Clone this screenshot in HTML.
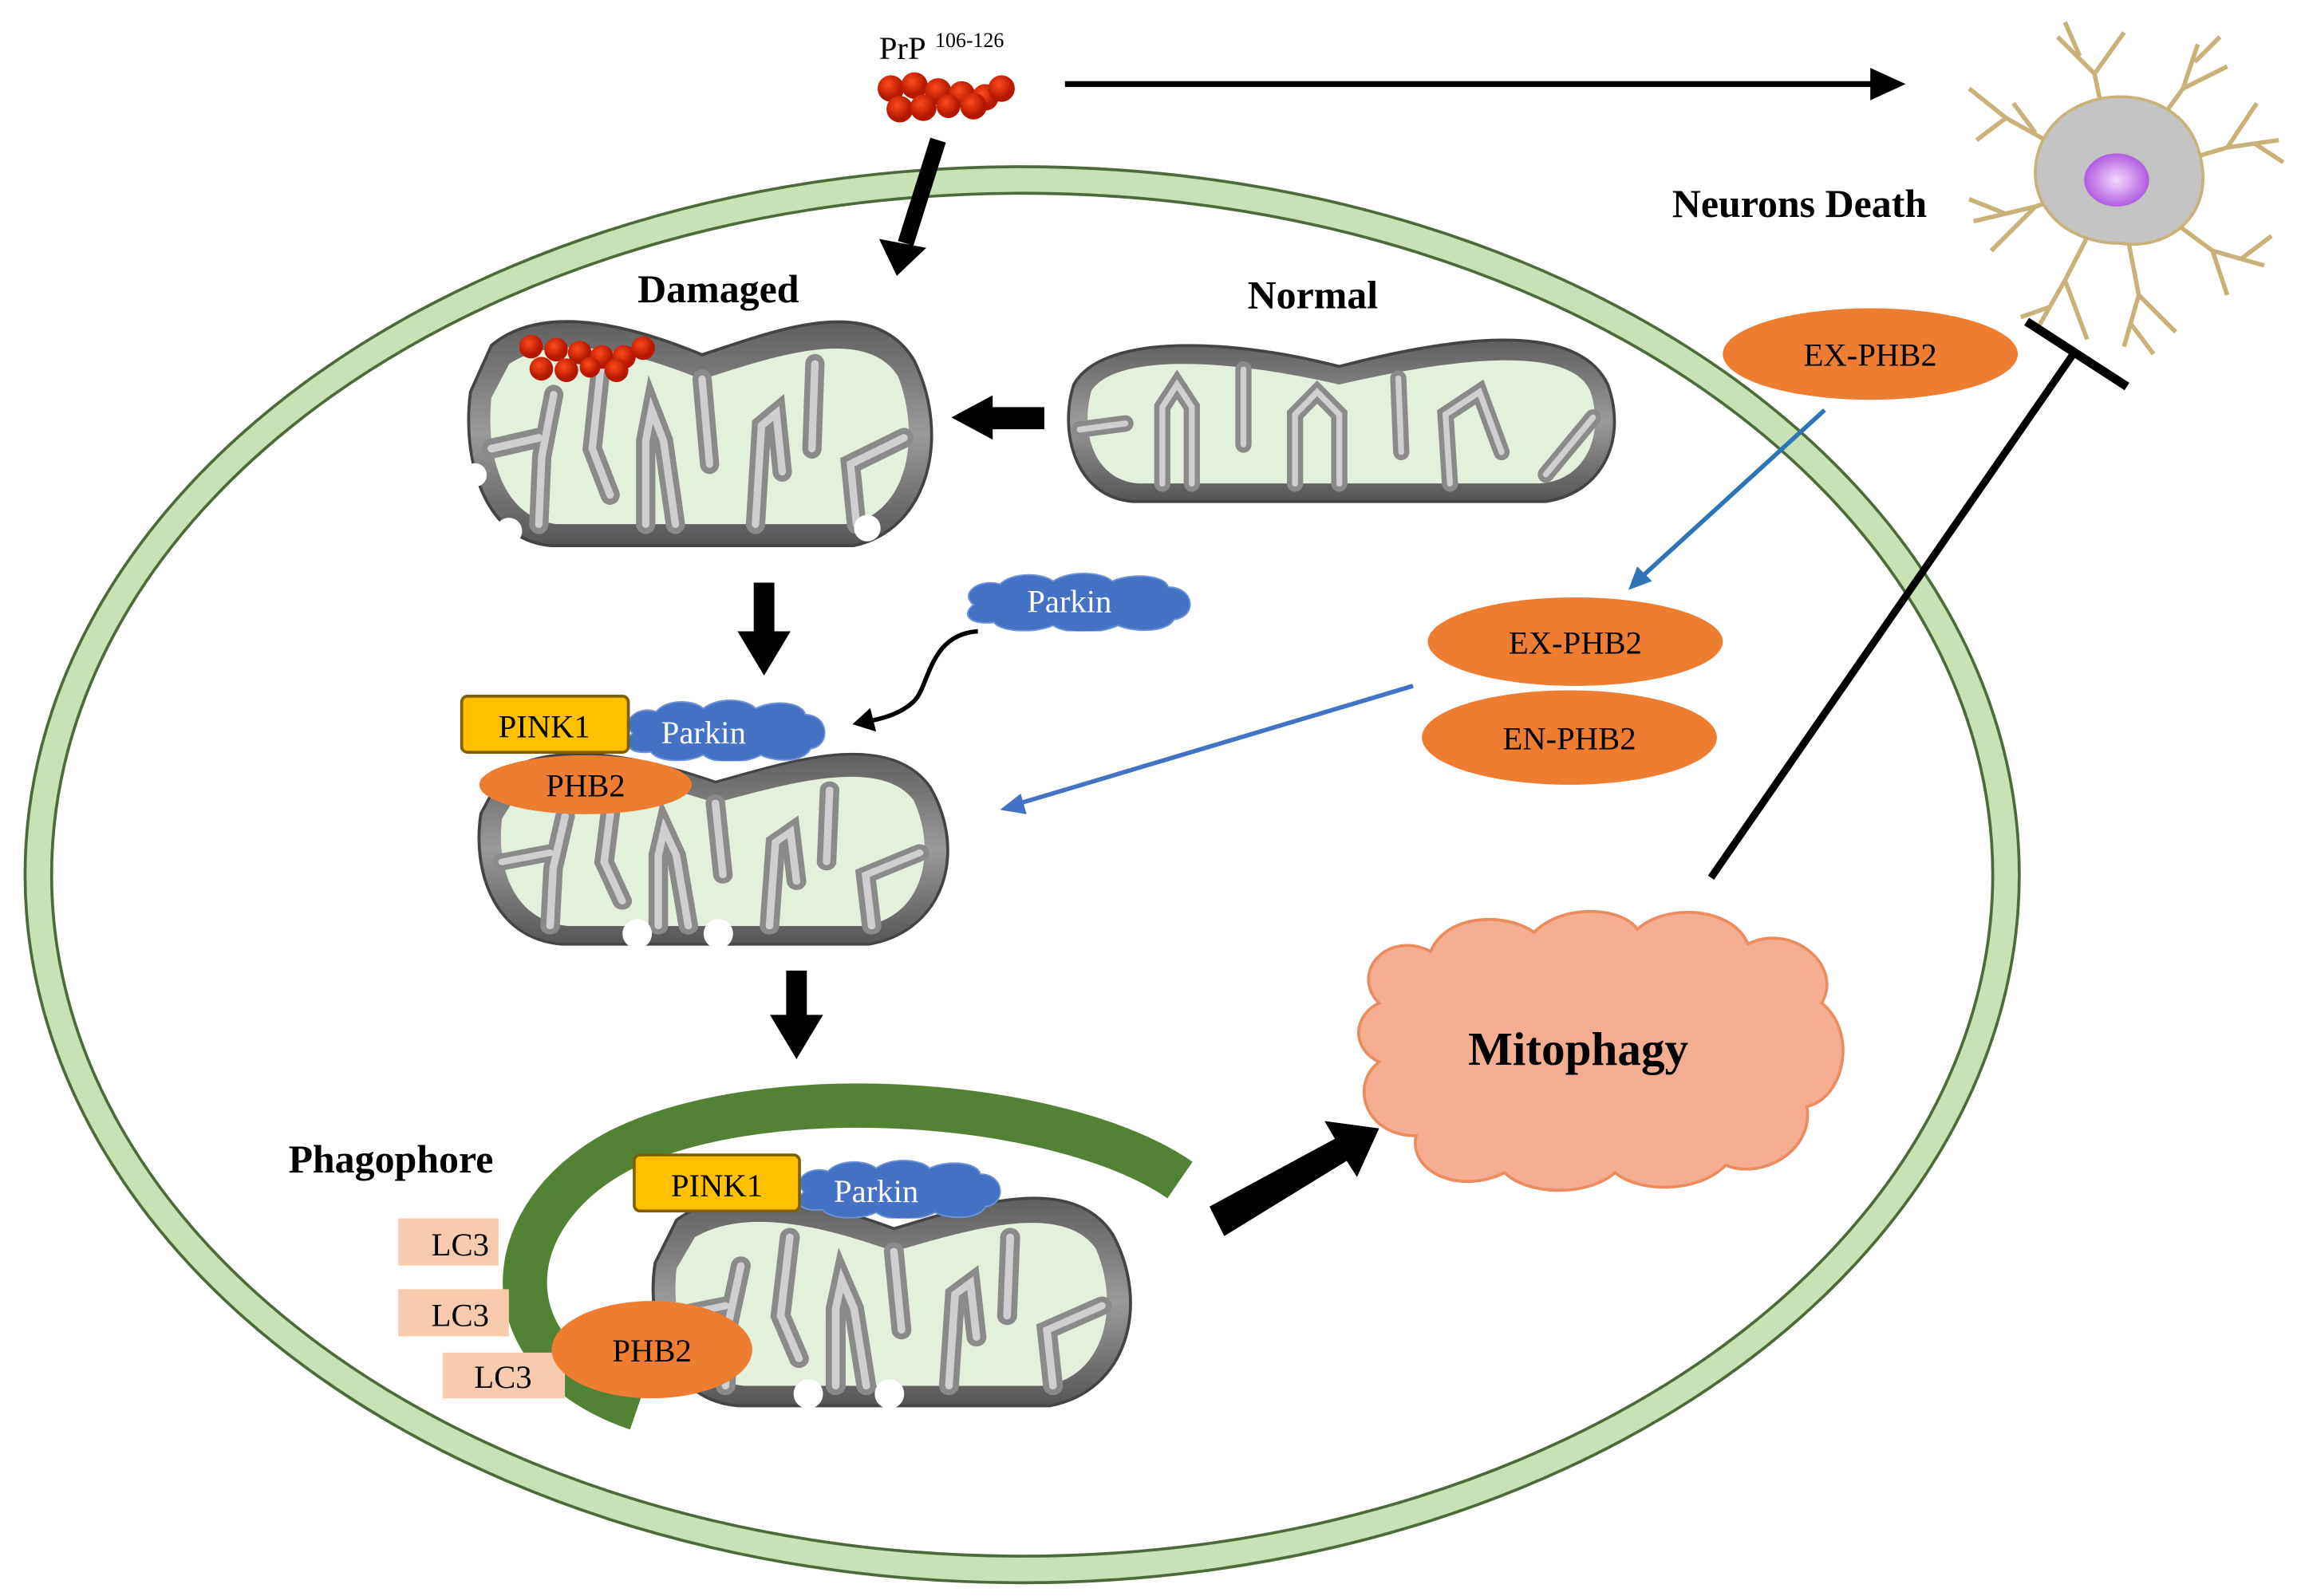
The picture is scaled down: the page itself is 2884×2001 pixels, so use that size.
<!DOCTYPE html>
<html><head><meta charset="utf-8"><style>
html,body{margin:0;padding:0;background:#fff;}
svg{display:block;}
text{font-family:"Liberation Serif",serif;}
</style></head><body>
<svg width="2884" height="2001" viewBox="0 0 1560 1082" preserveAspectRatio="none" xmlns="http://www.w3.org/2000/svg">
<defs>
<linearGradient id="mg" x1="0" y1="0" x2="0" y2="1">
<stop offset="0" stop-color="#5e5e5e"/><stop offset="0.5" stop-color="#9a9a9a"/><stop offset="1" stop-color="#555"/>
</linearGradient>
<radialGradient id="nuc"><stop offset="0" stop-color="#f3d9ff"/><stop offset="1" stop-color="#b05be0"/></radialGradient>
<radialGradient id="bead" cx="0.4" cy="0.35"><stop offset="0" stop-color="#ff4a1c"/><stop offset="1" stop-color="#b51800"/></radialGradient>
<symbol id="mito" viewBox="0 0 320 160" preserveAspectRatio="none">
<path d="M18,28 C55,-2 120,18 160,34 C205,20 275,-8 303,38 C328,88 312,148 262,158 L58,158 C12,154 -2,100 4,58 Z" fill="url(#mg)" stroke="#444" stroke-width="2"/>
<path d="M30,40 C65,18 118,34 160,50 C205,36 270,14 292,48 C308,88 298,138 258,144 L62,144 C26,140 14,100 18,62 Z" fill="#e3f0dc"/>
<g fill="none" stroke-linecap="round">
<g stroke="#8a8a8a" stroke-width="13">
<path d="M18,95 L50,88"/><path d="M50,144 L52,100 L60,60"/><path d="M92,40 L86,95 L98,125"/><path d="M122,144 L122,90 L126,70 L134,90 L142,144"/><path d="M160,50 L165,105"/><path d="M196,144 L200,80 L210,72 L214,110"/><path d="M236,40 L234,95"/><path d="M264,144 L260,105 L296,88"/>
</g>
<g stroke="#cfcfcf" stroke-width="5">
<path d="M18,95 L50,88"/><path d="M50,144 L52,100 L60,60"/><path d="M92,40 L86,95 L98,125"/><path d="M122,144 L122,90 L126,70 L134,90 L142,144"/><path d="M160,50 L165,105"/><path d="M196,144 L200,80 L210,72 L214,110"/><path d="M236,40 L234,95"/><path d="M264,144 L260,105 L296,88"/>
</g></g>
</symbol>
<symbol id="mitoN" viewBox="0 0 380 120" preserveAspectRatio="none">
<path d="M10,40 C30,5 120,10 190,28 C260,10 350,-5 372,40 C385,75 370,112 330,118 L50,118 C10,115 0,70 10,40 Z" fill="url(#mg)" stroke="#444" stroke-width="2"/>
<path d="M22,44 C40,18 120,24 190,40 C260,24 345,12 360,44 C370,72 358,104 326,106 L54,106 C24,104 14,72 22,44 Z" fill="#e3f0dc"/>
<g fill="none" stroke-linecap="round">
<g stroke="#8a8a8a" stroke-width="11"><path d="M14,70 L45,66"/><path d="M70,106 L70,55 L80,40 L90,55 L90,106"/><path d="M125,30 L125,80"/><path d="M160,106 L160,60 L175,45 L190,60 L190,106"/><path d="M230,36 L232,85"/><path d="M265,106 L262,60 L285,45 L300,85"/><path d="M330,100 L362,62"/></g>
<g stroke="#cfcfcf" stroke-width="4"><path d="M14,70 L45,66"/><path d="M70,106 L70,55 L80,40 L90,55 L90,106"/><path d="M125,30 L125,80"/><path d="M160,106 L160,60 L175,45 L190,60 L190,106"/><path d="M230,36 L232,85"/><path d="M265,106 L262,60 L285,45 L300,85"/><path d="M330,100 L362,62"/></g>
</g>
</symbol>
<symbol id="cloud" viewBox="0 0 160 40" preserveAspectRatio="none">
<path d="M10,22 C0,14 14,4 28,8 C36,0 56,0 64,6 C76,-2 98,0 104,6 C118,0 140,2 142,10 C160,10 162,30 146,32 C140,42 116,40 108,36 C96,42 72,42 64,36 C50,42 28,40 24,34 C6,36 2,28 10,22 Z" fill="#4472c4" stroke="#6f93d6" stroke-width="1"/>
</symbol>
</defs>

<!-- cell -->
<ellipse cx="693" cy="593" rx="667" ry="471" fill="none" stroke="#4d6b3a" stroke-width="20"/>
<ellipse cx="693" cy="593" rx="667" ry="471" fill="none" stroke="#c8e2b5" stroke-width="16"/>

<!-- PrP -->
<text x="596" y="40" font-size="22">PrP</text><text x="634" y="32" font-size="14">106-126</text>
<g fill="url(#bead)">
<circle cx="604" cy="60" r="9"/><circle cx="620" cy="58" r="9"/><circle cx="636" cy="62" r="9"/><circle cx="652" cy="64" r="9"/><circle cx="668" cy="66" r="9"/><circle cx="679" cy="60" r="9"/>
<circle cx="610" cy="74" r="9"/><circle cx="626" cy="73" r="9"/><circle cx="643" cy="72" r="8"/><circle cx="660" cy="72" r="9"/>
</g>
<line x1="722" y1="57" x2="1272" y2="57" stroke="#000" stroke-width="4"/>
<path d="M1268,46 L1292,57 L1268,68 Z" fill="#000"/>

<!-- neuron -->
<g stroke="#c8b27a" stroke-width="3" fill="none">
<path d="M1435,122 L1360,80 L1335,60 M1360,80 L1340,95 M1380,90 L1365,70"/><path d="M1435,122 L1380,140 L1338,150 M1380,140 L1350,170 M1360,145 L1335,135"/>
<path d="M1435,122 L1400,190 L1380,225 M1400,190 L1415,230 M1390,208 L1370,215"/><path d="M1435,122 L1450,200 L1440,235 M1450,200 L1475,225 M1445,220 L1460,240"/>
<path d="M1435,122 L1500,170 L1535,180 M1500,170 L1510,200 M1520,175 L1540,160"/><path d="M1435,122 L1510,100 L1545,95 M1510,100 L1530,70 M1528,97 L1548,110"/>
<path d="M1435,122 L1480,60 L1490,30 M1480,60 L1510,45 M1488,42 L1505,25"/><path d="M1435,122 L1420,50 L1395,25 M1420,50 L1440,22 M1410,38 L1400,15"/>
</g>
<path d="M1385,95 C1405,55 1475,55 1490,100 C1505,145 1470,170 1438,165 C1395,165 1368,132 1385,95 Z" fill="#c3c3c3" stroke="#c8b27a" stroke-width="2"/>
<ellipse cx="1435" cy="122" rx="22" ry="18" fill="url(#nuc)"/>
<text x="1220" y="147" font-size="27" font-weight="bold" text-anchor="middle">Neurons Death</text>

<!-- arrows top -->
<line x1="636" y1="95" x2="614" y2="165" stroke="#000" stroke-width="11"/>
<path d="M596,162 L608,187 L628,168 Z" fill="#000"/>
<text x="487" y="205" font-size="27" font-weight="bold" text-anchor="middle">Damaged</text>
<text x="890" y="209" font-size="27" font-weight="bold" text-anchor="middle">Normal</text>

<use href="#mito" x="315" y="205" width="322" height="167"/>
<g fill="url(#bead)">
<circle cx="360" cy="235" r="8"/><circle cx="377" cy="237" r="8"/><circle cx="393" cy="239" r="8"/><circle cx="408" cy="242" r="8"/><circle cx="423" cy="242" r="8"/><circle cx="436" cy="236" r="8"/>
<circle cx="367" cy="250" r="8"/><circle cx="384" cy="251" r="8"/><circle cx="400" cy="249" r="7"/><circle cx="418" cy="251" r="8"/>
</g>
<circle cx="322" cy="322" r="8" fill="#fff"/><circle cx="345" cy="360" r="9" fill="#fff"/><circle cx="588" cy="358" r="9" fill="#fff"/>
<use href="#mitoN" x="718" y="220" width="380" height="122"/>
<rect x="670" y="276" width="38" height="15" fill="#000"/><path d="M673,268 L645,283 L673,298 Z" fill="#000"/>

<!-- down arrow 1 -->
<rect x="511" y="395" width="14" height="35" fill="#000"/><path d="M500,428 L536,428 L518,458 Z" fill="#000"/>
<use href="#cloud" x="650" y="388" width="160" height="40"/>
<text x="725" y="415" font-size="22" fill="#fff" text-anchor="middle">Parkin</text>
<path d="M663,428 C630,430 630,465 620,475 C610,485 595,488 583,490" fill="none" stroke="#000" stroke-width="3"/>
<path d="M590,480 L578,491 L594,496 Z" fill="#000"/>

<!-- mito 2 -->
<use href="#mito" x="322" y="500" width="326" height="142"/>
<circle cx="432" cy="633" r="10" fill="#fff"/><circle cx="487" cy="633" r="10" fill="#fff"/>
<use href="#cloud" x="420" y="474" width="142" height="42"/>
<text x="477" y="504" font-size="22" fill="#fff" text-anchor="middle">Parkin</text>
<rect x="313" y="472" width="113" height="38" rx="4" fill="#ffc000" stroke="#7f6000" stroke-width="2"/>
<text x="369" y="500" font-size="22" text-anchor="middle">PINK1</text>
<ellipse cx="397" cy="532" rx="72" ry="20" fill="#ed7d31"/>
<text x="397" y="540" font-size="22" text-anchor="middle">PHB2</text>

<!-- PHB2 right -->
<ellipse cx="1268" cy="240" rx="100" ry="31" fill="#ed7d31"/>
<text x="1268" y="248" font-size="22" text-anchor="middle">EX-PHB2</text>
<line x1="1237" y1="278" x2="1112" y2="392" stroke="#2e75b6" stroke-width="3"/>
<path d="M1104,400 L1110,384 L1120,394 Z" fill="#2e75b6"/>
<ellipse cx="1068" cy="435" rx="100" ry="30" fill="#ed7d31"/>
<text x="1068" y="443" font-size="22" text-anchor="middle">EX-PHB2</text>
<ellipse cx="1064" cy="500" rx="100" ry="32" fill="#ed7d31"/>
<text x="1064" y="508" font-size="22" text-anchor="middle">EN-PHB2</text>
<line x1="958" y1="465" x2="690" y2="545" stroke="#4472c4" stroke-width="3"/>
<path d="M678,549 L692,538 L696,552 Z" fill="#4472c4"/>

<!-- inhibit -->
<line x1="1160" y1="595" x2="1407" y2="238" stroke="#000" stroke-width="5"/>
<line x1="1374" y1="218" x2="1442" y2="262" stroke="#000" stroke-width="6"/>

<!-- down arrow 2 -->
<rect x="533" y="658" width="14" height="32" fill="#000"/><path d="M522,688 L558,688 L540,718 Z" fill="#000"/>

<!-- mitophagy -->
<path d="M935,680 C915,660 940,630 970,645 C980,620 1020,618 1040,632 C1060,612 1100,615 1110,630 C1130,612 1175,615 1185,640 C1215,625 1250,655 1235,680 C1260,700 1250,745 1225,750 C1230,780 1195,800 1170,790 C1150,810 1110,808 1095,795 C1075,812 1035,810 1020,795 C990,810 955,795 960,770 C925,770 915,735 935,720 C915,710 918,688 935,680 Z" fill="#f4ad8e" stroke="#ec8b5e" stroke-width="2"/>
<text x="1070" y="722" font-size="32" font-weight="bold" text-anchor="middle">Mitophagy</text>

<!-- big arrow -->
<path d="M820,818 L905,772 L898,760 L935,765 L920,798 L913,787 L830,838 Z" fill="#000"/>

<!-- phagophore -->
<text x="265" y="795" font-size="27" font-weight="bold" text-anchor="middle">Phagophore</text>
<path d="M800,800 C720,745 520,730 420,780 C335,825 330,920 432,955" fill="none" stroke="#548235" stroke-width="30"/>
<rect x="270" y="826" width="68" height="32" fill="#f8cbad"/><text x="312" y="851" font-size="22" text-anchor="middle">LC3</text>
<rect x="270" y="874" width="75" height="32" fill="#f8cbad"/><text x="312" y="899" font-size="22" text-anchor="middle">LC3</text>
<rect x="300" y="917" width="83" height="31" fill="#f8cbad"/><text x="341" y="941" font-size="22" text-anchor="middle">LC3</text>
<use href="#mito" x="440" y="800" width="332" height="155"/>
<circle cx="548" cy="945" r="10" fill="#fff"/><circle cx="603" cy="945" r="10" fill="#fff"/>
<use href="#cloud" x="536" y="786" width="145" height="40"/>
<text x="594" y="815" font-size="22" fill="#fff" text-anchor="middle">Parkin</text>
<rect x="430" y="783" width="112" height="38" rx="4" fill="#ffc000" stroke="#7f6000" stroke-width="2"/>
<text x="486" y="811" font-size="22" text-anchor="middle">PINK1</text>
<ellipse cx="442" cy="915" rx="68" ry="33" fill="#ed7d31"/>
<text x="442" y="923" font-size="22" text-anchor="middle">PHB2</text>
</svg>
</body></html>
